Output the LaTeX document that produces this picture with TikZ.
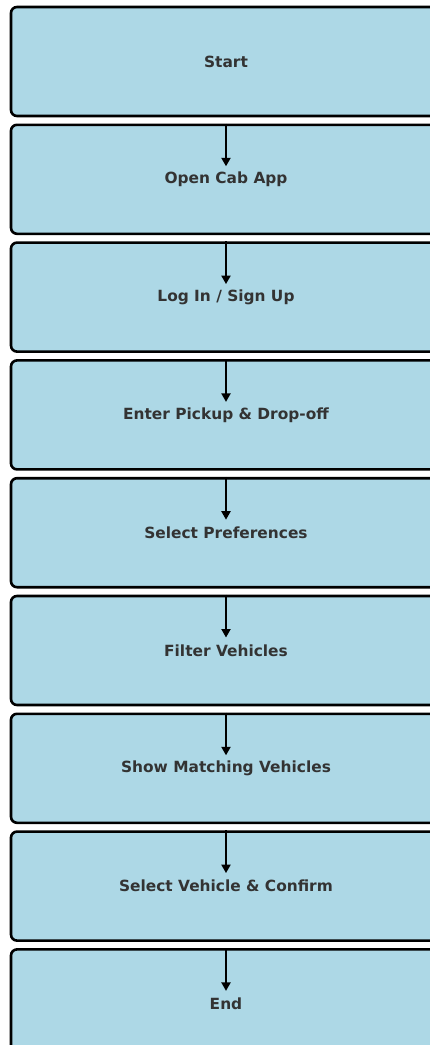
\documentclass[tikz,border=0pt]{standalone}
\usepackage{fontspec}
\setmainfont{DejaVu Sans}
\usetikzlibrary{arrows.meta}
\definecolor{boxfill}{RGB}{173,216,230}
\definecolor{txt}{RGB}{51,51,51}
\tikzset{
  stepbox/.style={draw=black, line width=2.6pt, fill=boxfill, rounded corners=6pt,
    minimum width=430pt, minimum height=109pt, inner sep=0pt,
    font=\fontsize{15.4pt}{18pt}\selectfont\bfseries, text=txt},
  flow/.style={line width=2pt, -{Triangle[length=8.5pt,width=9pt]}}
}
\begin{document}
\begin{tikzpicture}[x=1pt,y=-1pt]
\useasboundingbox (0,0) rectangle (430,1045);
\clip (0,0) rectangle (430,1045);
\foreach \i/\t in {0/{Start},1/{Open Cab App},2/{Log In / Sign Up},3/{Enter Pickup \& Drop-off},4/{Select Preferences},5/{Filter Vehicles},6/{Show Matching Vehicles},7/{Select Vehicle \& Confirm},8/{End}}{
  \node[stepbox] (b\i) at (226,{61.5+117.8*\i}) {\t};
}
\foreach \i in {1,...,8}{
  \draw[flow] (b\i.north) -- ([yshift=13pt]b\i.center);
}
\end{tikzpicture}
\end{document}
